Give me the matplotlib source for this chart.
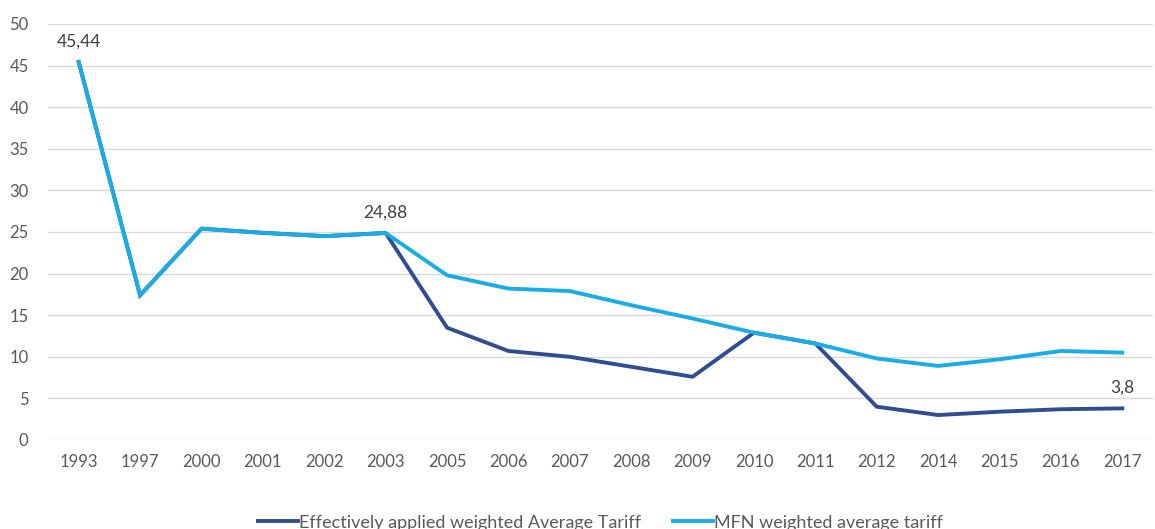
import matplotlib
matplotlib.use("Agg")
import matplotlib.pyplot as plt

years = ["1993", "1997", "2000", "2001", "2002", "2003", "2005", "2006", "2007",
         "2008", "2009", "2010", "2011", "2012", "2014", "2015", "2016", "2017"]
effective = [45.44, 17.4, 25.4, 24.9, 24.5, 24.88, 13.5, 10.7, 10.0,
             8.8, 7.6, 12.9, 11.6, 4.0, 3.0, 3.4, 3.7, 3.8]
mfn = [45.44, 17.4, 25.4, 24.9, 24.5, 24.88, 19.8, 18.2, 17.9,
       16.2, 14.6, 12.9, 11.6, 9.8, 8.9, 9.7, 10.7, 10.5]
labels_effective = {0: "45,44", 5: "24,88", 17: "3,8"}

plt.rcParams['font.family'] = ['Lato', 'DejaVu Sans']

fig = plt.figure(figsize=(11.55, 5.29), dpi=100)
ax = fig.add_axes([48 / 1155, 89 / 529, 1105 / 1155, 416 / 529])

x = list(range(len(years)))
dark = '#2F4E91'
light = '#19ACE5'
l1, = ax.plot(x, effective, color=dark, lw=2.8, solid_joinstyle='miter',
              label='Effectively applied weighted Average Tariff', zorder=3)
l2, = ax.plot(x, mfn, color=light, lw=2.8, solid_joinstyle='miter',
              label='MFN weighted average tariff', zorder=4)

for i, txt in labels_effective.items():
    ax.annotate(txt, (x[i], effective[i]), xytext=(0, 9), textcoords='offset points',
                ha='center', va='bottom', fontsize=12.5, color='#404040')

ax.set_xlim(-0.5, len(years) - 0.5)
ax.set_ylim(0, 50)
ax.set_yticks(range(0, 51, 5))
ax.set_xticks(x)
ax.set_xticklabels(years)
ax.grid(axis='y', color='#D9D9D9', lw=1)
ax.set_axisbelow(True)
for s in ax.spines.values():
    s.set_visible(False)
ax.tick_params(axis='both', length=0, labelsize=12, labelcolor='#595959')
ax.tick_params(axis='y', pad=14)
ax.tick_params(axis='x', pad=10)

fig.legend(handles=[l1, l2], loc='center', bbox_to_anchor=(0.52, 0.012), ncol=2,
           frameon=False, fontsize=13, handlelength=2.2, handletextpad=0.05,
           columnspacing=1.8, labelcolor='#595959')

fig.savefig('out.png', dpi=100)
